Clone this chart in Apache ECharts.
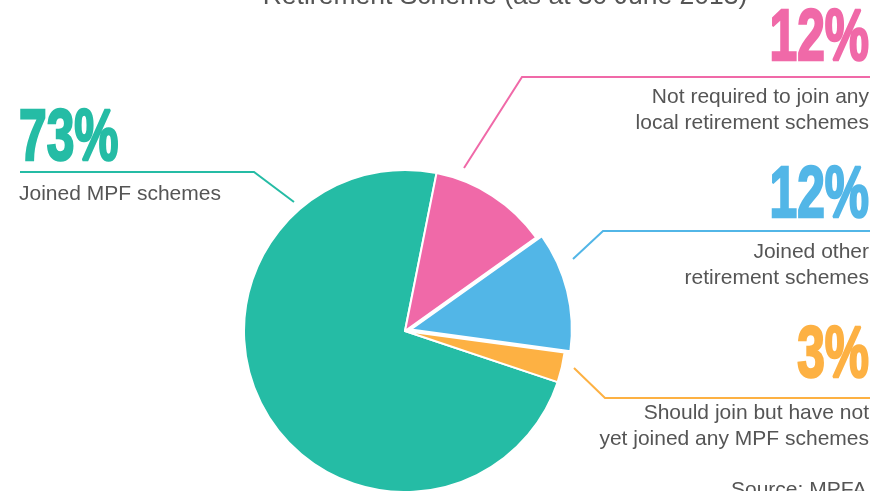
<!DOCTYPE html>
<html>
<head>
<meta charset="utf-8">
<script src="https://cdn.jsdelivr.net/npm/echarts@6/dist/echarts.min.js"></script>
<style>
html,body{margin:0;padding:0;background:#fff;}
#chart{width:872px;height:491px;}
</style>
</head>
<body>
<div id="chart"></div>
<script>
// ---- data ----
const categories = [
  'Joined MPF schemes',
  'Not required to join any\nlocal retirement schemes',
  'Joined other\nretirement schemes',
  'Should join but have not\nyet joined any MPF schemes'
];
const values = [73, 12, 12, 3];
const colors = ['#25BCA5', '#F069A8', '#52B6E7', '#FDB143'];
const pulledOut = [false, false, true, false];
const titleText = 'Retirement Scheme (as at 30 June 2013)';
const sourceText = 'Source: MPFA';

// ---- layout (positions only) ----
const pieCenter = [405, 331];
const pieRadius = 161;
const pieStart = 341.5;
const pullOffset = 6;
const labelLayouts = [
  { x: 19,  y: 181, pctY: 140,   align: 'left',  line: [[294, 202], [254, 172], [20, 172]] },
  { x: 869, y: 84,  pctY: 40,    align: 'right', line: [[464, 168], [522, 77], [870, 77]] },
  { x: 869, y: 239, pctY: 197.5, align: 'right', line: [[573, 259], [603, 231], [870, 231]] },
  { x: 869, y: 400, pctY: 357.5, align: 'right', line: [[574, 368], [605, 398], [870, 398]] }
];

const pctFont = "'Liberation Sans', Arial, sans-serif";
const txtFont = "'Liberation Sans', Arial, sans-serif";

const chart = echarts.init(document.getElementById('chart'), null, { renderer: 'canvas' });

// offset direction of the pulled-out slice (mid angle, derived from values)
const total = values.reduce((a, b) => a + b, 0);
let acc = 0;
const midAngles = values.map(v => { const m = pieStart - (acc + v / 2) / total * 360; acc += v; return m; });
const pulledIdx = pulledOut.indexOf(true);
const pa = midAngles[pulledIdx] * Math.PI / 180;
const pulledCenter = [pieCenter[0] + pullOffset * Math.cos(pa), pieCenter[1] - pullOffset * Math.sin(pa)];

const mainData = categories.map((name, i) => ({
  name: name,
  value: values[i],
  itemStyle: pulledOut[i]
    ? { color: 'rgba(0,0,0,0)', borderWidth: 0 }
    : { color: colors[i] },
  labelLine: { lineStyle: { color: colors[i] } }
}));
const pulledData = categories.map((name, i) => ({
  name: name,
  value: values[i],
  itemStyle: pulledOut[i]
    ? { color: colors[i] }
    : { color: 'rgba(0,0,0,0)', borderWidth: 0 }
}));

// big percentage figures, built from the values array
const pctGraphics = values.map((v, i) => ({
  type: 'text',
  x: labelLayouts[i].x,
  y: labelLayouts[i].pctY,
  scaleX: 0.69,
  silent: true,
  style: {
    text: v + '%',
    x: 0, y: 0,
    align: labelLayouts[i].align,
    verticalAlign: 'middle',
    fontSize: 72,
    fontWeight: 'bold',
    fontFamily: pctFont,
    fill: colors[i],
    stroke: colors[i],
    lineWidth: 2.5
  }
}));

const option = {
  backgroundColor: '#ffffff',
  animation: false,
  graphic: [
    {
      type: 'text',
      silent: true,
      style: {
        text: titleText, x: 505, y: 10,
        align: 'center', verticalAlign: 'bottom',
        fontSize: 26.5, fontFamily: txtFont, fill: '#555555'
      }
    },
    {
      type: 'text',
      silent: true,
      style: {
        text: sourceText, x: 731, y: 490,
        align: 'left', verticalAlign: 'middle',
        fontSize: 21, fontFamily: txtFont, fill: '#555555'
      }
    }
  ].concat(pctGraphics),
  series: [{
    type: 'pie',
    center: pieCenter,
    radius: pieRadius,
    startAngle: pieStart,
    clockwise: true,
    avoidLabelOverlap: false,
    silent: true,
    itemStyle: { borderColor: '#ffffff', borderWidth: 2 },
    emphasis: { disabled: true },
    label: {
      show: true,
      position: 'outside',
      formatter: function (p) {
        const s = labelLayouts[p.dataIndex].align === 'left' ? 'L' : 'R';
        return '{txt' + s + '|' + p.name + '}';
      },
      rich: {
        txtL: { fontSize: 21, fontFamily: txtFont, color: '#555555', lineHeight: 26, align: 'left' },
        txtR: { fontSize: 21, fontFamily: txtFont, color: '#555555', lineHeight: 26, align: 'right' }
      }
    },
    labelLine: { show: true, smooth: false, lineStyle: { width: 2 } },
    labelLayout: function (params) {
      const L = labelLayouts[params.dataIndex];
      return {
        x: L.x, y: L.y, align: L.align, verticalAlign: 'top',
        labelLinePoints: L.line
      };
    },
    data: mainData
  }, {
    type: 'pie',
    center: pulledCenter,
    radius: pieRadius,
    startAngle: pieStart,
    clockwise: true,
    silent: true,
    itemStyle: { borderColor: '#ffffff', borderWidth: 2 },
    emphasis: { disabled: true },
    label: { show: false },
    labelLine: { show: false },
    data: pulledData
  }]
};

chart.setOption(option);
</script>
</body>
</html>
